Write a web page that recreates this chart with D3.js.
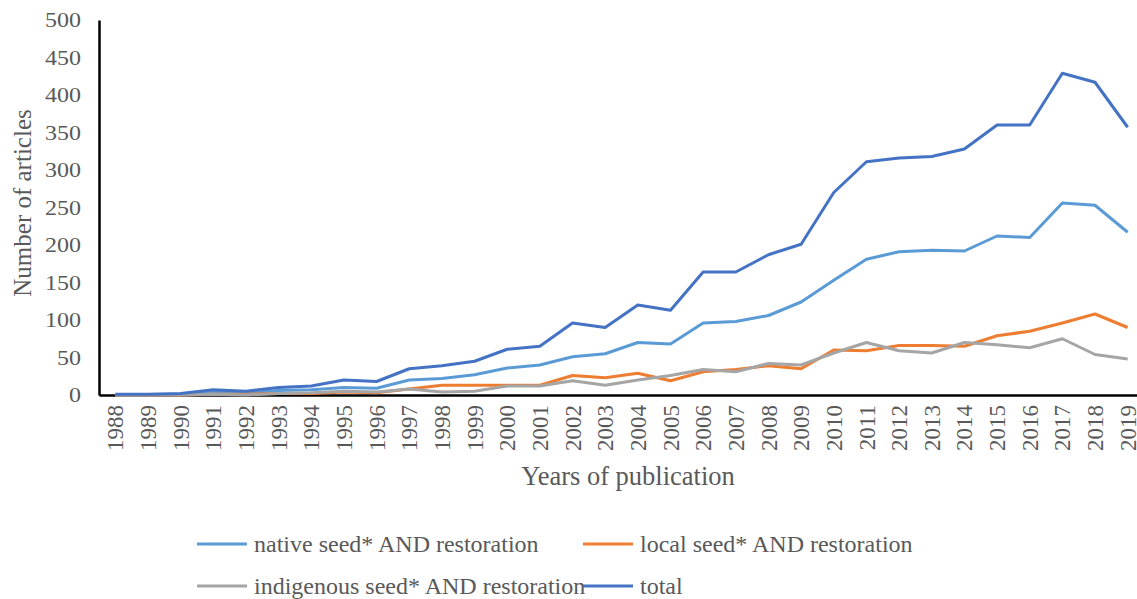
<!DOCTYPE html>
<meta charset='utf-8'>
<title>Articles per year</title>
<style>
  body {
    margin: 0;
    font-family: 'Liberation Serif', 'Times New Roman', serif;
    background: #fff;
  }
  svg { display: block; }
  text { font-family: 'Liberation Serif', 'Times New Roman', serif; fill: #595959; }
  path.series { fill: none; stroke-width: 3px; stroke-linejoin: round; }
</style>
<body>
<script src='https://cdn.jsdelivr.net/npm/d3@7'></script>
<script>

  var years = d3.range(1988, 2020).map(String)

  var nativeSeed = [0, 0, 1, 4, 3, 6, 7, 10, 9, 20, 22, 27, 36, 40, 51, 55, 70, 68, 96, 98,
    106, 124, 153, 181, 191, 193, 192, 212, 210, 256, 253, 217]
  var localSeed = [0, 0, 0, 1, 1, 2, 2, 4, 3, 8, 13, 13, 13, 13, 26, 23, 29, 19, 31, 34,
    39, 35, 60, 59, 66, 66, 65, 79, 85, 96, 108, 90]
  var indigenousSeed = [0, 0, 0, 1, 0, 2, 3, 5, 4, 8, 4, 5, 12, 12, 19, 13, 20, 26, 34, 31,
    42, 40, 56, 70, 59, 56, 70, 67, 63, 75, 54, 48]
  var total = [1, 1, 2, 7, 5, 10, 12, 20, 18, 35, 39, 45, 61, 65, 96, 90, 120, 113, 164, 164,
    187, 201, 270, 311, 316, 318, 328, 360, 360, 429, 417, 357]

  var yTicks = [0, 50, 100, 150, 200, 250, 300, 350, 400, 450, 500]

  var series = [
    { name: 'native seed* AND restoration', values: nativeSeed, color: '#5B9BD5' },
    { name: 'local seed* AND restoration', values: localSeed, color: '#ED7D31' },
    { name: 'indigenous seed* AND restoration', values: indigenousSeed, color: '#A5A5A5' },
    { name: 'total', values: total, color: '#4472C4' }
  ]

  var width = 1137,
  height = 599

  var svg = d3.select('body')
  .append('svg')
  .attr('width', width)
  .attr('height', height)

  var x = d3.scalePoint()
  .domain(years)
  .range([99, 1144])
  .padding(0.5)

  var y = d3.scaleLinear()
  .domain([0, 500])
  .range([395, 20])

  /* ------- AXES -------*/
  var yAxis = svg.append('g')
  .attr('transform', 'translate(99,0)')
  .call(d3.axisLeft(y).tickValues(yTicks).tickSize(0).tickPadding(18))
  yAxis.select('.domain').attr('stroke', '#000').attr('stroke-width', 2.5)
  yAxis.selectAll('text')
  .attr('fill', '#595959')
  .style('font-size', '24px')
  .style('font-family', "'Liberation Serif', serif")
  .attr('transform', 'scale(1,0.85)')

  var xAxis = svg.append('g')
  .attr('transform', 'translate(0,395)')
  .call(d3.axisBottom(x).tickSize(0).tickPadding(0))
  xAxis.select('.domain').attr('stroke', '#000').attr('stroke-width', 2.5)
  xAxis.selectAll('text')
  .attr('fill', '#595959')
  .style('font-size', '23px')
  .style('font-family', "'Liberation Serif', serif")
  .attr('transform', 'rotate(-90)')
  .attr('text-anchor', 'end')
  .attr('x', -10)
  .attr('y', 0)
  .attr('dy', '0.33em')

  svg.append('text')
  .attr('transform', 'translate(31,203) rotate(-90)')
  .attr('text-anchor', 'middle')
  .style('font-size', '25px')
  .text('Number of articles')

  svg.append('text')
  .attr('x', 628)
  .attr('y', 485)
  .attr('text-anchor', 'middle')
  .style('font-size', '26.5px')
  .text('Years of publication')

  /* ------- LINES -------*/
  var line = d3.line()
  .x(function(d, i) { return x(years[i]) })
  .y(function(d) { return y(d) })

  svg.append('g').selectAll('path.series')
  .data(series)
  .enter()
  .append('path')
  .attr('class', 'series')
  .attr('stroke', function(d) { return d.color })
  .attr('d', function(d) { return line(d.values) })

  /* ------- LEGEND -------*/
  var legendPos = [[197, 544], [583, 544], [197, 586], [583, 586]]

  var legend = svg.append('g').selectAll('g')
  .data(series)
  .enter()
  .append('g')
  .attr('transform', function(d, i) { return 'translate(' + legendPos[i] + ')' })

  legend.append('line')
  .attr('x1', 0).attr('x2', 50)
  .attr('y1', 0).attr('y2', 0)
  .attr('stroke', function(d) { return d.color })
  .attr('stroke-width', 3)

  legend.append('text')
  .attr('x', 57)
  .attr('y', 8)
  .style('font-size', '24px')
  .text(function(d) { return d.name })

</script>
</body>
